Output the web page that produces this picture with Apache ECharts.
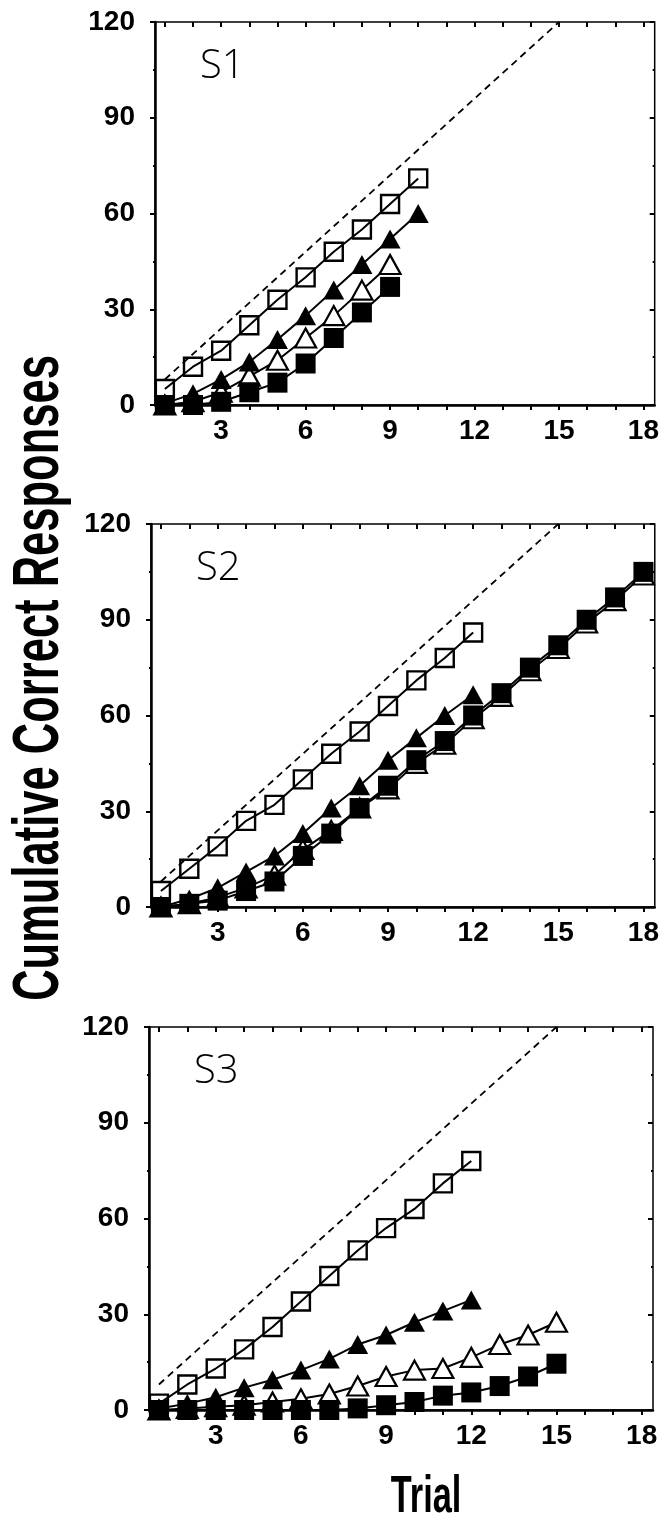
<!DOCTYPE html>
<html>
<head>
<meta charset="utf-8">
<script src="https://cdn.jsdelivr.net/npm/echarts@6/dist/echarts.min.js"></script>
<style>
  html, body { margin: 0; padding: 0; background: #fff; }
  #chart { width: 662px; height: 1520px; }
</style>
</head>
<body>
<div id="chart"></div>
<script>
// trial numbers and tick labels
const trials = [1, 2, 3, 4, 5, 6, 7, 8, 9, 10, 11, 12, 13, 14, 15, 16, 17, 18];
const xLabels = [3, 6, 9, 12, 15, 18];
const yLabels = [0, 30, 60, 90, 120];

// dashed reference line (8 correct per trial)
const refX = [1, 15];
const refY = [8, 120];

// S1
const s1OpenSquare = [5, 12, 17, 25, 33, 40, 48, 55, 63, 71];
const s1FilledTriangle = [0.5, 3.5, 8, 13.5, 20.5, 28, 36, 44, 52, 60];
const s1OpenTriangle = [0, 1, 4, 9, 14, 21, 28, 36, 44];
const s1FilledSquare = [0, 0, 1, 4, 7, 13, 21, 29, 37];

// S2
const s2OpenSquare = [5, 12, 19, 27, 32, 40, 48, 55, 63, 71, 78, 86];
const s2FilledTriangle = [0, 2.5, 6, 11, 16, 23, 31, 38, 46, 53, 60, 66.5];
const s2OpenTriangle = [0, 1, 3, 6, 10, 18, 24, 31, 37, 45, 51, 59, 66, 74, 81, 89, 96, 104];
const s2FilledSquare = [0, 1, 2, 5, 8, 16, 23, 31, 38, 46, 52, 60, 67, 75, 82, 90, 97, 105];

// S3
const s3OpenSquare = [2, 8, 13, 19, 26, 34, 42, 50, 57, 63, 71, 78];
const s3FilledTriangle = [0.5, 2, 4, 7, 9.5, 12.5, 16, 20.5, 23.5, 27.5, 31, 34.5];
const s3OpenTriangle = [0, 0.5, 1, 1.5, 2.5, 3.5, 5, 7.5, 10.5, 12.5, 13, 16.5, 20.5, 23.5, 27.5];
const s3FilledSquare = [0, 0, 0, 0, 0, 0, 0, 0.5, 1.5, 2.5, 4.5, 5.5, 7.5, 10.5, 14.5];

const panels = [
  { name: "S1", top: 22, left: 155, width: 501, data: [s1OpenTriangle, s1FilledTriangle, s1OpenSquare, s1FilledSquare] },
  { name: "S2", top: 524, left: 151, width: 504, data: [s2OpenTriangle, s2FilledTriangle, s2OpenSquare, s2FilledSquare] },
  { name: "S3", top: 1027, left: 149, width: 504, data: [s3OpenTriangle, s3FilledTriangle, s3OpenSquare, s3FilledSquare] },
];

const tickFont = "'Liberation Sans', Arial, sans-serif";
const pairs = (ys) => ys.map((v, i) => [trials[i], v]);

const grid = [];
const xAxis = [];
const yAxis = [];
const series = [];
const graphic = [];

panels.forEach((p, i) => {
  grid.push({
    left: p.left, top: p.top, width: p.width, height: 383,
    show: true, borderColor: "#000", borderWidth: 1.5, backgroundColor: "transparent",
  });
  const xBase = {
    gridIndex: i, type: "value", min: 0.65, max: 18.4,
    splitLine: { show: false },
  };
  // main x axis: outside ticks + labels
  xAxis.push(Object.assign({}, xBase, {
    axisLine: { show: true, onZero: false, lineStyle: { color: "#000", width: 2.5 } },
    axisTick: { show: true, customValues: trials, length: 5, lineStyle: { color: "#000", width: 2 } },
    axisLabel: {
      show: true, customValues: xLabels, margin: 12, color: "#000",
      fontFamily: tickFont, fontWeight: "bold", fontSize: 28,
    },
  }));
  // overlay x axis: inside ticks so they cross the line
  xAxis.push(Object.assign({}, xBase, {
    axisLine: { show: false, onZero: false },
    axisTick: { show: true, inside: true, customValues: trials, length: 5, lineStyle: { color: "#000", width: 2 } },
    axisLabel: { show: false },
  }));
  const yBase = { gridIndex: i, type: "value", min: 0, max: 120, interval: 30, splitLine: { show: false } };
  yAxis.push(Object.assign({}, yBase, {
    axisLine: { show: true, lineStyle: { color: "#000", width: 2.5 } },
    axisTick: { show: true, length: 5, lineStyle: { color: "#000", width: 2 } },
    minorTick: { show: true, splitNumber: 2, length: 2, lineStyle: { color: "#000", width: 2 } },
    axisLabel: {
      show: true, margin: 20, color: "#000",
      customValues: yLabels,
      fontFamily: tickFont, fontWeight: "bold", fontSize: 28,
    },
  }));
  yAxis.push(Object.assign({}, yBase, {
    axisLine: { show: false },
    axisTick: { show: true, inside: true, length: 5, lineStyle: { color: "#000", width: 2 } },
    minorTick: { show: true, splitNumber: 2, length: 2, lineStyle: { color: "#000", width: 2 } },
    axisLabel: { show: false },
  }));

  const xi = i * 2;
  const yi = i * 2;

  series.push({
    type: "line", xAxisIndex: xi, yAxisIndex: yi,
    data: refX.map((x, k) => [x, refY[k]]),
    symbol: "none", clip: false,
    lineStyle: { color: "#000", width: 1.8, type: [7, 5] },
  });

  const styles = [
    { symbol: "triangle", size: [21, 19], fill: "#fff", border: 2.2 },  // open triangle
    { symbol: "triangle", size: [21, 19], fill: "#000", border: 0 },    // filled triangle
    { symbol: "rect", size: 18, fill: "rgba(0,0,0,0)", border: 2.4 },   // open square
    { symbol: "rect", size: 20, fill: "#000", border: 0 },              // filled square
  ];
  p.data.forEach((ys, k) => {
    const st = styles[k];
    series.push({
      type: "line", xAxisIndex: xi, yAxisIndex: yi,
      data: pairs(ys), clip: false,
      symbol: st.symbol, symbolSize: st.size, showAllSymbol: true,
      lineStyle: { color: "#000", width: 2 },
      itemStyle: { color: st.fill, borderColor: "#000", borderWidth: st.border, opacity: 1 },
      emphasis: { disabled: true },
    });
  });

  graphic.push({
    type: "text", left: p.left + 45, top: p.top + 25,
    style: {
      text: p.name, fill: "#000", fontSize: 40, fontWeight: 300,
      fontFamily: "'Open Sans', 'Liberation Sans', sans-serif",
    },
  });
});

graphic.push({
  type: "text", x: 40, y: 678, rotation: Math.PI / 2, scaleX: 0.68,
  style: {
    text: "Cumulative Correct Responses", fill: "#000", fontSize: 64, fontWeight: "bold",
    fontFamily: "'Liberation Sans', Arial, sans-serif",
    textAlign: "center", textVerticalAlign: "middle",
  },
});
graphic.push({
  type: "text", x: 426, y: 1498, scaleX: 0.66,
  style: {
    text: "Trial", fill: "#000", fontSize: 52, fontWeight: "bold",
    fontFamily: "'Liberation Sans', Arial, sans-serif",
    textAlign: "center", textVerticalAlign: "middle",
  },
});

const chart = echarts.init(document.getElementById("chart"));
chart.setOption({
  animation: false,
  backgroundColor: "#fff",
  grid, xAxis, yAxis, series, graphic,
});
</script>
</body>
</html>
